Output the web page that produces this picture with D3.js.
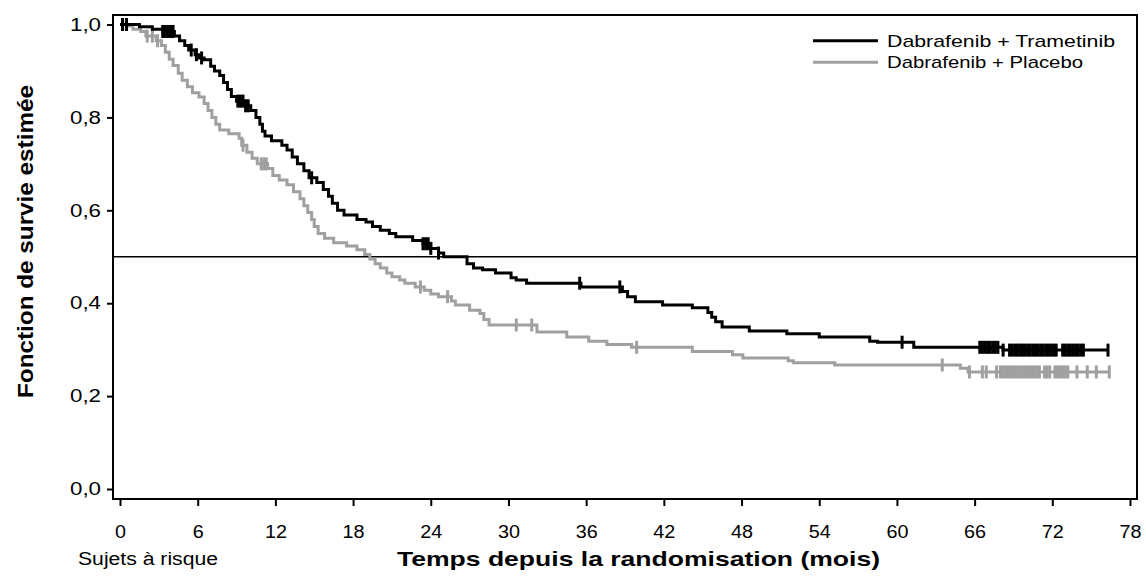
<!DOCTYPE html>
<html>
<head>
<meta charset="utf-8">
<script src="https://cdn.jsdelivr.net/npm/d3@7/dist/d3.min.js"></script>
<style>
  body { margin: 0; background: #fff; }
  text { font-family: "Liberation Sans", Arial, sans-serif; fill: #000; }
</style>
</head>
<body>
<svg id="chart" width="1146" height="581"></svg>
<script>
// Kaplan-Meier steps: time (months) and survival after the drop
const trametinibT = [0, 1.5, 2.5, 3.3, 4.2, 4.6, 5.0, 5.3, 5.8, 6.1, 6.5, 7.0, 7.3, 7.7, 8.0, 8.3, 8.6, 9.0, 9.6, 10.1, 10.5, 10.8, 11.0, 11.2, 11.7, 12.5, 12.9, 13.3, 13.7, 14.2, 14.6, 15.2, 15.7, 16.1, 16.4, 16.8, 17.3, 18.3, 19.0, 19.5, 20.1, 20.8, 21.3, 22.6, 23.4, 24.0, 24.6, 25.0, 26.8, 27.3, 28.0, 29.0, 30.2, 30.6, 31.4, 35.6, 38.8, 39.2, 39.8, 41.9, 44.2, 45.4, 45.7, 46.0, 46.5, 48.6, 51.5, 54.0, 57.9, 58.5, 61.3, 68.2, 76.3]
const trametinibS = [1.0, 0.995, 0.99, 0.985, 0.975, 0.965, 0.955, 0.945, 0.935, 0.928, 0.924, 0.91, 0.9, 0.89, 0.875, 0.86, 0.845, 0.835, 0.825, 0.815, 0.80, 0.785, 0.77, 0.76, 0.75, 0.74, 0.73, 0.715, 0.70, 0.685, 0.67, 0.66, 0.645, 0.63, 0.615, 0.60, 0.59, 0.58, 0.575, 0.565, 0.557, 0.55, 0.543, 0.535, 0.528, 0.518, 0.508, 0.50, 0.485, 0.476, 0.472, 0.465, 0.455, 0.45, 0.443, 0.435, 0.425, 0.414, 0.403, 0.396, 0.39, 0.38, 0.37, 0.36, 0.349, 0.34, 0.334, 0.327, 0.318, 0.316, 0.305, 0.299, 0.299]
const trametinibCensor = [0.2, 0.5, 3.3, 3.5, 3.7, 3.9, 4.1, 5.5, 5.9, 6.3, 9.1, 9.3, 9.5, 9.7, 9.9, 14.8, 23.4, 23.6, 23.8, 24.0, 24.6, 35.5, 38.6, 60.4, 66.4, 66.6, 66.8, 67.0, 67.2, 67.4, 67.6, 67.8, 68.2, 68.7, 68.9, 69.1, 69.3, 69.5, 69.7, 69.9, 70.1, 70.3, 70.5, 70.7, 70.9, 71.1, 71.3, 71.5, 71.7, 71.9, 72.1, 72.3, 72.8, 73.0, 73.2, 73.4, 73.6, 73.8, 74.0, 74.2, 74.4, 76.3]

const placeboT = [0, 0.6, 1.0, 1.6, 2.0, 2.8, 3.2, 3.5, 3.8, 4.1, 4.5, 4.8, 5.2, 5.6, 6.1, 6.5, 6.8, 7.1, 7.4, 7.7, 8.4, 9.2, 9.4, 9.8, 10.2, 10.6, 11.4, 11.8, 12.3, 12.9, 13.4, 13.9, 14.2, 14.5, 14.8, 15.0, 15.3, 15.8, 16.5, 17.5, 18.3, 18.9, 19.3, 19.7, 20.1, 20.6, 21.0, 21.6, 22.0, 22.8, 23.5, 24.0, 24.6, 25.6, 25.9, 27.0, 27.8, 28.1, 28.5, 32.2, 34.5, 36.2, 37.6, 39.5, 44.2, 47.3, 48.1, 51.6, 52.0, 55.2, 64.9, 65.5, 76.4]
const placeboS = [1.0, 0.997, 0.99, 0.985, 0.975, 0.965, 0.955, 0.94, 0.925, 0.912, 0.895, 0.88, 0.866, 0.853, 0.844, 0.83, 0.815, 0.80, 0.785, 0.773, 0.765, 0.755, 0.74, 0.725, 0.712, 0.70, 0.69, 0.675, 0.665, 0.655, 0.64, 0.625, 0.61, 0.595, 0.58, 0.565, 0.55, 0.54, 0.53, 0.523, 0.515, 0.505, 0.495, 0.485, 0.476, 0.465, 0.457, 0.45, 0.443, 0.435, 0.428, 0.42, 0.414, 0.405, 0.396, 0.385, 0.378, 0.365, 0.353, 0.338, 0.327, 0.318, 0.311, 0.305, 0.296, 0.289, 0.282, 0.276, 0.272, 0.267, 0.26, 0.252, 0.252]
const placeboCensor = [0.2, 0.5, 2.1, 2.5, 2.9, 9.5, 10.9, 11.1, 11.3, 23.2, 25.3, 30.6, 31.8, 39.9, 63.5, 65.6, 66.6, 66.9, 67.7, 68.0, 68.2, 68.4, 68.6, 68.8, 69.0, 69.2, 69.4, 69.6, 69.8, 70.0, 70.2, 70.4, 70.6, 70.8, 71.0, 71.4, 71.6, 71.8, 72.2, 72.4, 72.6, 72.8, 73.0, 73.2, 73.9, 74.7, 75.4, 76.4]

const xTicks = [0, 6, 12, 18, 24, 30, 36, 42, 48, 54, 60, 66, 72, 78]
const yTicks = [0, 0.2, 0.4, 0.6, 0.8, 1.0]
const yTickLabels = ['0,0', '0,2', '0,4', '0,6', '0,8', '1,0']
const seriesNames = ['Dabrafenib + Trametinib', 'Dabrafenib + Placebo']
const seriesColors = ['#000000', '#a0a0a0']

const svg = d3.select('#chart')

const box = { l: 113, r: 1137, t: 15, b: 499 }
const scaleX = d3.scaleLinear().domain([0, 78]).range([120, 1130])
const scaleY = d3.scaleLinear().domain([0, 1]).range([489, 24.5])

// frame
svg.append('rect')
  .attr('x', box.l).attr('y', box.t)
  .attr('width', box.r - box.l).attr('height', box.b - box.t)
  .attr('fill', 'none').attr('stroke', '#000').attr('stroke-width', 2)

// 0.5 reference line
svg.append('line')
  .attr('x1', box.l).attr('x2', box.r)
  .attr('y1', scaleY(0.5)).attr('y2', scaleY(0.5))
  .attr('stroke', '#000').attr('stroke-width', 1.3)

// x axis
const axisX = d3.axisBottom(scaleX)
  .tickValues(xTicks)
  .tickSize(7)
  .tickSizeOuter(0)
svg.append('g')
  .attr('class', 'axis axis-x')
  .attr('transform', `translate(0, ${box.b})`)
  .call(axisX)
  .call(g => g.select('.domain').remove())
  .call(g => g.selectAll('line').attr('stroke-width', 2))
  .call(g => g.selectAll('text')
    .attr('y', 39).attr('dy', null)
    .style('font-size', '18px')
    .attr('textLength', d => d < 10 ? 11 : 22)
    .attr('lengthAdjust', 'spacingAndGlyphs'))

// y axis
const axisY = d3.axisLeft(scaleY)
  .tickValues(yTicks)
  .tickFormat((d, i) => yTickLabels[i])
  .tickSize(6)
  .tickSizeOuter(0)
svg.append('g')
  .attr('class', 'axis axis-y')
  .attr('transform', `translate(${box.l}, 0)`)
  .call(axisY)
  .call(g => g.select('.domain').remove())
  .call(g => g.selectAll('line').attr('stroke-width', 2))
  .call(g => g.selectAll('text')
    .attr('x', -12)
    .style('font-size', '18px')
    .attr('textLength', 31)
    .attr('lengthAdjust', 'spacingAndGlyphs'))

svg.selectAll('.axis text').style('font-family', '"Liberation Sans", Arial, sans-serif').attr('fill', '#000')

// curves
const line = d3.line()
  .x(d => scaleX(d[0]))
  .y(d => scaleY(d[1]))
  .curve(d3.curveStepAfter)

function stepValue(times, surv, t) {
  const i = d3.bisectRight(times, t) - 1
  return surv[Math.max(0, i)]
}

const series = [
  { t: trametinibT, s: trametinibS, c: trametinibCensor, color: seriesColors[0] },
  { t: placeboT, s: placeboS, c: placeboCensor, color: seriesColors[1] }
]

// draw placebo first so trametinib sits on top
series.slice().reverse().forEach(ser => {
  const pts = ser.t.map((t, i) => [t, ser.s[i]])
  svg.append('path')
    .datum(pts)
    .attr('d', line)
    .attr('fill', 'none')
    .attr('stroke', ser.color)
    .attr('stroke-width', 3)

  svg.append('g')
    .selectAll('line')
    .data(ser.c)
    .enter()
    .append('line')
    .attr('x1', d => scaleX(d)).attr('x2', d => scaleX(d))
    .attr('y1', d => scaleY(stepValue(ser.t, ser.s, d)) - 6.5)
    .attr('y2', d => scaleY(stepValue(ser.t, ser.s, d)) + 6.5)
    .attr('stroke', ser.color)
    .attr('stroke-width', 3)
})

// legend
const legend = svg.append('g').attr('class', 'legend')
seriesNames.forEach((name, i) => {
  const y = 40.7 + i * 21.6
  legend.append('line')
    .attr('x1', 813).attr('x2', 878)
    .attr('y1', y).attr('y2', y)
    .attr('stroke', seriesColors[i]).attr('stroke-width', 3)
  legend.append('text')
    .attr('x', 887).attr('y', y + 6)
    .style('font-size', '17px')
    .attr('textLength', i === 0 ? 228 : 196)
    .attr('lengthAdjust', 'spacingAndGlyphs')
    .text(name)
})

// titles
svg.append('text')
  .attr('x', 78).attr('y', 565)
  .style('font-size', '18px')
  .attr('textLength', 140)
  .attr('lengthAdjust', 'spacingAndGlyphs')
  .text('Sujets à risque')

svg.append('text')
  .attr('x', 397).attr('y', 566)
  .style('font-size', '21px')
  .style('font-weight', 'bold')
  .attr('textLength', 483)
  .attr('lengthAdjust', 'spacingAndGlyphs')
  .text('Temps depuis la randomisation (mois)')

svg.append('text')
  .attr('transform', 'translate(33, 398) rotate(-90)')
  .style('font-size', '22px')
  .style('font-weight', 'bold')
  .attr('textLength', 313)
  .attr('lengthAdjust', 'spacingAndGlyphs')
  .text('Fonction de survie estimée')
</script>
</body>
</html>
